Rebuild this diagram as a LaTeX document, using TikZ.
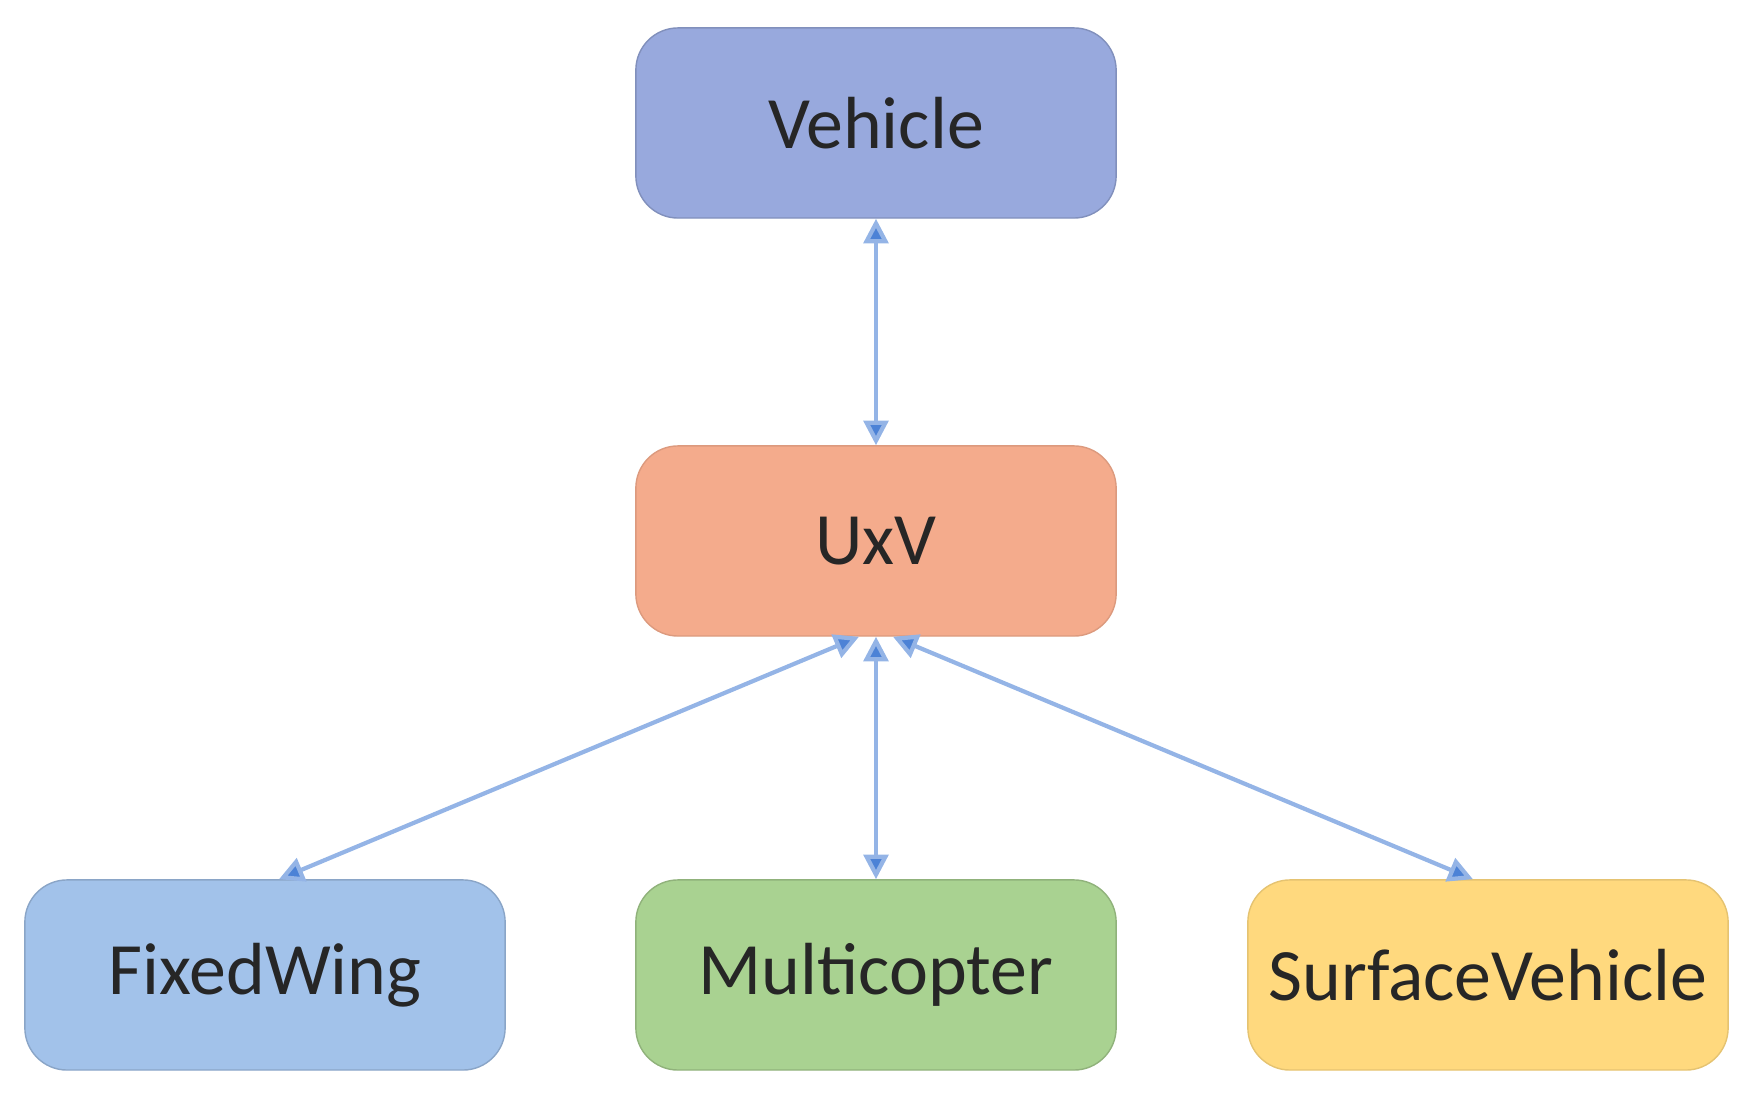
\documentclass[tikz,border=0pt]{standalone}
\usepackage{fontspec}
\setmainfont{Carlito}
\usetikzlibrary{arrows.meta}
\definecolor{vehfill}{HTML}{98A9DD}
\definecolor{uxvfill}{HTML}{F4AB8C}
\definecolor{fixfill}{HTML}{A2C2EA}
\definecolor{mulfill}{HTML}{A9D291}
\definecolor{surffill}{HTML}{FFD97E}
\definecolor{linkblue}{HTML}{4C82D6}

\begin{document}
\begin{tikzpicture}[x=0.01cm, y=-0.01cm,
    box/.style = {rounded corners=12pt, minimum width=4.8cm, minimum height=1.9cm,
                  font=\fontsize{21}{25}\selectfont, text=black!85},
    link/.style = {draw=linkblue!60, line width=1.2pt, {Triangle[length=7pt,width=7pt,fill=linkblue]}-{Triangle[length=7pt,width=7pt,fill=linkblue]}}
    ]

    \useasboundingbox (0,0) rectangle (1747,1095);

    % classes
    \node[box, fill=vehfill, draw=vehfill!85!black]   (vehicle) at (876,123) {Vehicle};
    \node[box, fill=uxvfill, draw=uxvfill!90!black]   (uxv)     at (876,541) {UxV};
    \node[box, fill=fixfill, draw=fixfill!85!black]   (fixed)   at (265,975) {FixedWing};
    \node[box, fill=mulfill, draw=mulfill!85!black]   (multi)   at (876,975) {Multicopter};
    \node[box, fill=surffill, draw=surffill!90!black] (surface) at (1488,975) {SurfaceVehicle};

    % links
    \draw[link] (vehicle.south) -- (uxv.north);
    \draw[link] ([xshift=-0.17cm]uxv.south) -- ([xshift=0.14cm]fixed.north);
    \draw[link] (uxv.south) -- (multi.north);
    \draw[link] ([xshift=0.17cm]uxv.south) -- ([xshift=-0.15cm]surface.north);

\end{tikzpicture}
\end{document}
